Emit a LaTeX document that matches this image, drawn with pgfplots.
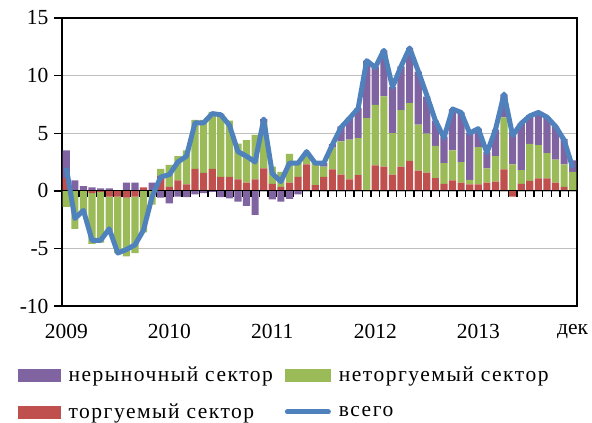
\documentclass[border=0pt]{standalone}
\usepackage{pgfplots}
\usepackage{pgfplotstable}
\pgfplotsset{compat=1.18}
\usepackage{fontspec}
\setmainfont{Liberation Serif}
\newfontfamily\legfont[LetterSpace=7]{Liberation Serif}
\definecolor{cpurp}{HTML}{8064A2}
\definecolor{cgreen}{HTML}{9BBB59}
\definecolor{cred}{HTML}{C0504D}
\definecolor{cblue}{HTML}{4F81BD}
\definecolor{cgrid}{HTML}{BFBFBF}

\pgfplotstableread{
x Tp Np Mp Tn Nn Mn L
0 1.1 0 2.4 0 -1.4 0 2.0
1 0 0 0.9 0 -3.3 0 -2.4
2 0 0 0.4 0 -2.1 0 -1.7
3 0 0 0.3 -0.2 -4.4 0 -4.3
4 0 0 0.2 -0.1 -4.4 0 -4.3
5 0 0 0.2 -0.5 -3.0 0 -3.3
6 0 0 0 -0.5 -4.9 0 -5.4
7 0 0 0.7 -0.6 -5.1 0 -5.1
8 0 0 0.7 -0.5 -4.9 0 -4.7
9 0.3 0 0 0 -3.6 0 -3.4
10 0 0 0.7 0 -1.2 0 -0.5
11 1.3 0.6 0 0 0 -0.6 1.2
12 0.35 1.9 0 0 0 -1.1 1.4
13 0.9 2.1 0 0 0 -0.5 2.5
14 0.55 2.95 0 0 0 -0.55 3.0
15 1.9 4.25 0 0 0 -0.3 5.9
16 1.55 4.6 0 0 0 -0.2 5.9
17 1.9 4.95 0 0 0 -0.1 6.7
18 1.2 5.5 0 0 0 -0.55 6.6
19 1.2 4.9 0 0 0 -0.65 5.7
20 1.0 3.1 0 0 0 -0.95 3.4
21 0.7 3.7 0 0 0 -1.3 3.0
22 1.0 3.85 0 0 0 -2.1 2.5
23 1.95 4.0 0.3 0 0 0 6.2
24 0.6 1.5 0 0 0 -0.75 1.5
25 0.35 1.3 0 0 0 -0.95 0.8
26 0.7 2.5 0 0 0 -0.7 2.4
27 1.2 1.2 0 0 0 -0.3 2.4
28 2.3 0.7 0.3 0 0 0 3.4
29 0.5 1.9 0 0 0 0 2.4
30 1.2 0.9 0.3 0 0 0 2.4
31 1.85 1.9 0.3 0 0 0 4.0
32 1.4 2.9 1.3 0 0 0 5.5
33 1.0 3.45 1.9 0 0 0 6.3
34 1.37 3.2 2.6 0 0 0 7.15
35 0.0 6.3 5.0 0 0 0 11.3
36 2.2 5.25 3.3 0 0 0 10.7
37 2.1 6.1 4.0 0 0 0 12.2
38 1.4 3.6 4.0 0 0 0 9.0
39 2.1 4.9 3.8 0 0 0 10.8
40 2.6 5.0 4.8 0 0 0 12.4
41 1.75 4.0 4.6 0 0 0 10.4
42 1.57 3.4 3.2 0 0 0 8.3
43 1.1 2.8 2.2 0 0 0 6.1
44 0.6 1.8 2.3 0 0 0 4.6
45 0.9 2.6 3.6 0 0 0 7.1
46 0.7 1.8 4.3 0 0 0 6.8
47 0.55 0.4 4.1 0 0 0 5.0
48 0.55 3.25 1.6 0 0 0 5.4
49 0.7 1.25 1.4 0 0 0 3.3
50 0.8 2.2 2.3 0 0 0 5.3
51 1.87 4.5 2.0 0 0 0 8.4
52 0 2.3 2.8 -0.5 0 0 4.8
53 0.6 1.2 4.05 0 0 0 5.85
54 0.87 3.2 2.5 0 0 0 6.5
55 1.07 2.9 2.8 0 0 0 6.8
56 1.07 2.2 3.1 0 0 0 6.4
57 0.7 2.0 2.9 0 0 0 5.6
58 0.35 1.95 2.2 0 0 0 4.4
59 0 1.65 1.0 0 0 0 2.0
}\data

\pgfplotsset{common/.style={scale only axis, width=515pt, height=288pt,
  xmin=-0.5, xmax=59.5, ymin=-10, ymax=15, at={(0pt,0pt)}, anchor=south west}}

\begin{document}
\begin{tikzpicture}
\path[use as bounding box] (-62pt,-117pt) rectangle (530pt,306pt);
\begin{axis}[common, ybar stacked, bar width=0.84,
  axis line style={line width=1.4pt},
  ytick={-10,-5,0,5,10,15}, ymajorgrids, grid style={cgrid, line width=1.4pt},
  ytick pos=left, tick align=outside, major tick length=8pt,
  ytick style={line width=1.4pt, black},
  xtick={0,12,24,36,48,59}, xticklabels={2009,2010,2011,2012,2013,дек},
  xtick style={draw=none},
  xticklabel style={yshift=-7pt},
  yticklabel style={xshift=-2pt},
  ticklabel style={font=\fontsize{21.5}{22}\selectfont},
  /pgf/number format/assume math mode=true,
  legend columns=2, legend cell align=left,
  legend style={at={(-0.0854,-0.203)}, anchor=north west, draw=none, fill=none,
    font=\legfont\fontsize{21.5}{22}\selectfont, row sep=17pt, inner sep=0pt,
    /tikz/column 1/.style={column sep=6pt},
    /tikz/column 2/.style={column sep=10pt},
    /tikz/column 3/.style={column sep=6pt}},
]
\addlegendimage{legend image code/.code={\fill[cpurp] (0pt,-6pt) rectangle (42pt,6pt);}}
\addlegendimage{legend image code/.code={\fill[cgreen] (0pt,-6pt) rectangle (45pt,6pt);}}
\addlegendimage{legend image code/.code={\fill[cred] (0pt,-6pt) rectangle (42pt,6pt);}}
\addlegendimage{legend image code/.code={\draw[cblue, line width=5pt, line cap=round] (2pt,0pt) -- (43pt,0pt);}}
\addplot[fill=cred, draw=none] table[x=x, y=Tp] {\data};
\addplot[fill=cgreen, draw=none] table[x=x, y=Np] {\data};
\addplot[fill=cpurp, draw=none] table[x=x, y=Mp] {\data};
\legend{нерыночный сектор, неторгуемый сектор, торгуемый сектор, всего}
\end{axis}
\begin{axis}[common, hide axis, ybar stacked, bar width=0.84]
\addplot[fill=cred, draw=none] table[x=x, y=Tn] {\data};
\addplot[fill=cgreen, draw=none] table[x=x, y=Nn] {\data};
\addplot[fill=cpurp, draw=none] table[x=x, y=Mn] {\data};
\end{axis}
\begin{axis}[common, hide axis, clip=false]
\draw[black, line width=1.4pt] (axis cs:-0.5,0) -- (axis cs:59.5,0);
\pgfplotsinvokeforeach{0.5,1.5,...,58.5}{\draw[black, line width=1.4pt] (axis cs:#1,0) -- ++(0pt,-6pt);}
\addplot[cblue, line width=5pt, line join=round, mark=none] table[x=x, y=L] {\data};
\end{axis}
\end{tikzpicture}
\end{document}
